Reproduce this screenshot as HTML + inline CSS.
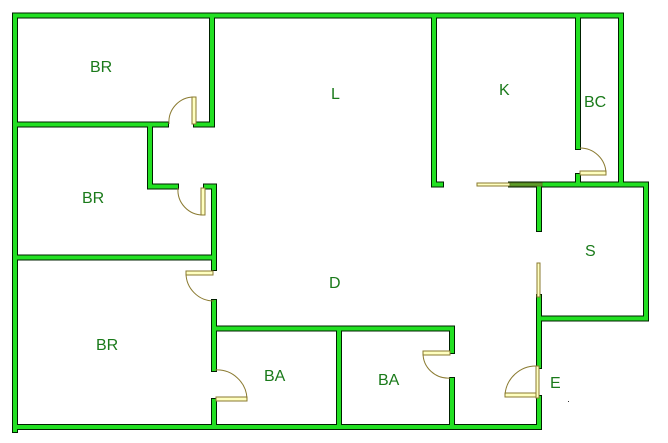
<!DOCTYPE html>
<html><head><style>html,body{margin:0;padding:0;background:#fff;width:668px;height:443px;overflow:hidden}
text{font-family:"Liberation Sans",sans-serif;font-size:16px;fill:#1a7a1a}</style></head>
<body>
<svg width="668" height="443" viewBox="0 0 668 443" xmlns="http://www.w3.org/2000/svg">
<defs>
<g id="w">
<polyline points="15,430 15,15.5 621,15.5 621,184.5"/>
<polyline points="15,427 539,427"/>
<polyline points="212,15.5 212,124.5 196,124.5"/>
<polyline points="15,124.5 166,124.5"/>
<polyline points="150,124.5 150,186.5 176,186.5"/>
<polyline points="206,186.5 214,186.5 214,257.5 15,257.5"/>
<polyline points="214,257.5 214,268"/>
<polyline points="214,302 214,328.5 452,328.5 452,351"/>
<polyline points="214,328.5 214,369"/>
<polyline points="214,401 214,427"/>
<polyline points="339,328.5 339,427"/>
<polyline points="452,380 452,427"/>
<polyline points="434,15.5 434,184.5 441,184.5"/>
<polyline points="578,15.5 578,147"/>
<polyline points="578,176 578,184.5"/>
<polyline points="511,184.5 646,184.5 646,318.5 539,318.5"/>
<polyline points="539,184.5 539,229"/>
<polyline points="539,297 539,366"/>
<polyline points="539,398 539,427"/>
</g>
</defs>
<g fill="none" stroke-linecap="square" stroke-linejoin="miter">
<use href="#w" stroke="#002000" stroke-width="6"/>
<use href="#w" stroke="#22e022" stroke-width="4"/>
</g>
<g fill="none" stroke="#8a7a30" stroke-width="1">
<rect x="192" y="97" width="4" height="27" fill="#ffffc0"/>
<path d="M169,124 A25,25 0 0 1 194,97"/>
<rect x="201" y="188" width="4" height="27" fill="#ffffc0"/>
<path d="M178,188 A25,25 0 0 0 203,215"/>
<rect x="186" y="271" width="27" height="4" fill="#ffffc0"/>
<path d="M186,273 A28,28 0 0 0 214,301"/>
<rect x="216" y="397" width="31" height="4" fill="#ffffc0"/>
<path d="M215,370 A30,30 0 0 1 247,399"/>
<rect x="423" y="351" width="27" height="4" fill="#ffffc0"/>
<path d="M423,353 A25,25 0 0 0 450,378"/>
<rect x="505" y="393" width="32" height="4" fill="#ffffc0"/>
<path d="M505,395 A31,31 0 0 1 537,366"/>
<rect x="536" y="366" width="3" height="32" fill="#ffffc0"/>
<rect x="580" y="171" width="26" height="4" fill="#ffffc0"/>
<path d="M580,148 A26,26 0 0 1 606,173"/>
<rect x="477" y="183" width="33" height="3" fill="#ffffc0"/>
<rect x="510" y="183" width="32" height="3" fill="#5aa02a" stroke="#5a7a20"/>
<rect x="537" y="263" width="3" height="34" fill="#ffffc0"/>
</g>
<text x="90" y="72">BR</text>
<text x="331" y="99">L</text>
<text x="499" y="95">K</text>
<text x="584" y="107">BC</text>
<text x="82" y="203">BR</text>
<text x="329" y="288">D</text>
<text x="585" y="256">S</text>
<text x="96" y="350">BR</text>
<text x="264" y="381">BA</text>
<text x="378" y="385">BA</text>
<text x="550" y="388">E</text>
<rect x="568" y="401" width="1" height="1" fill="#333"/>
</svg>
</body></html>
